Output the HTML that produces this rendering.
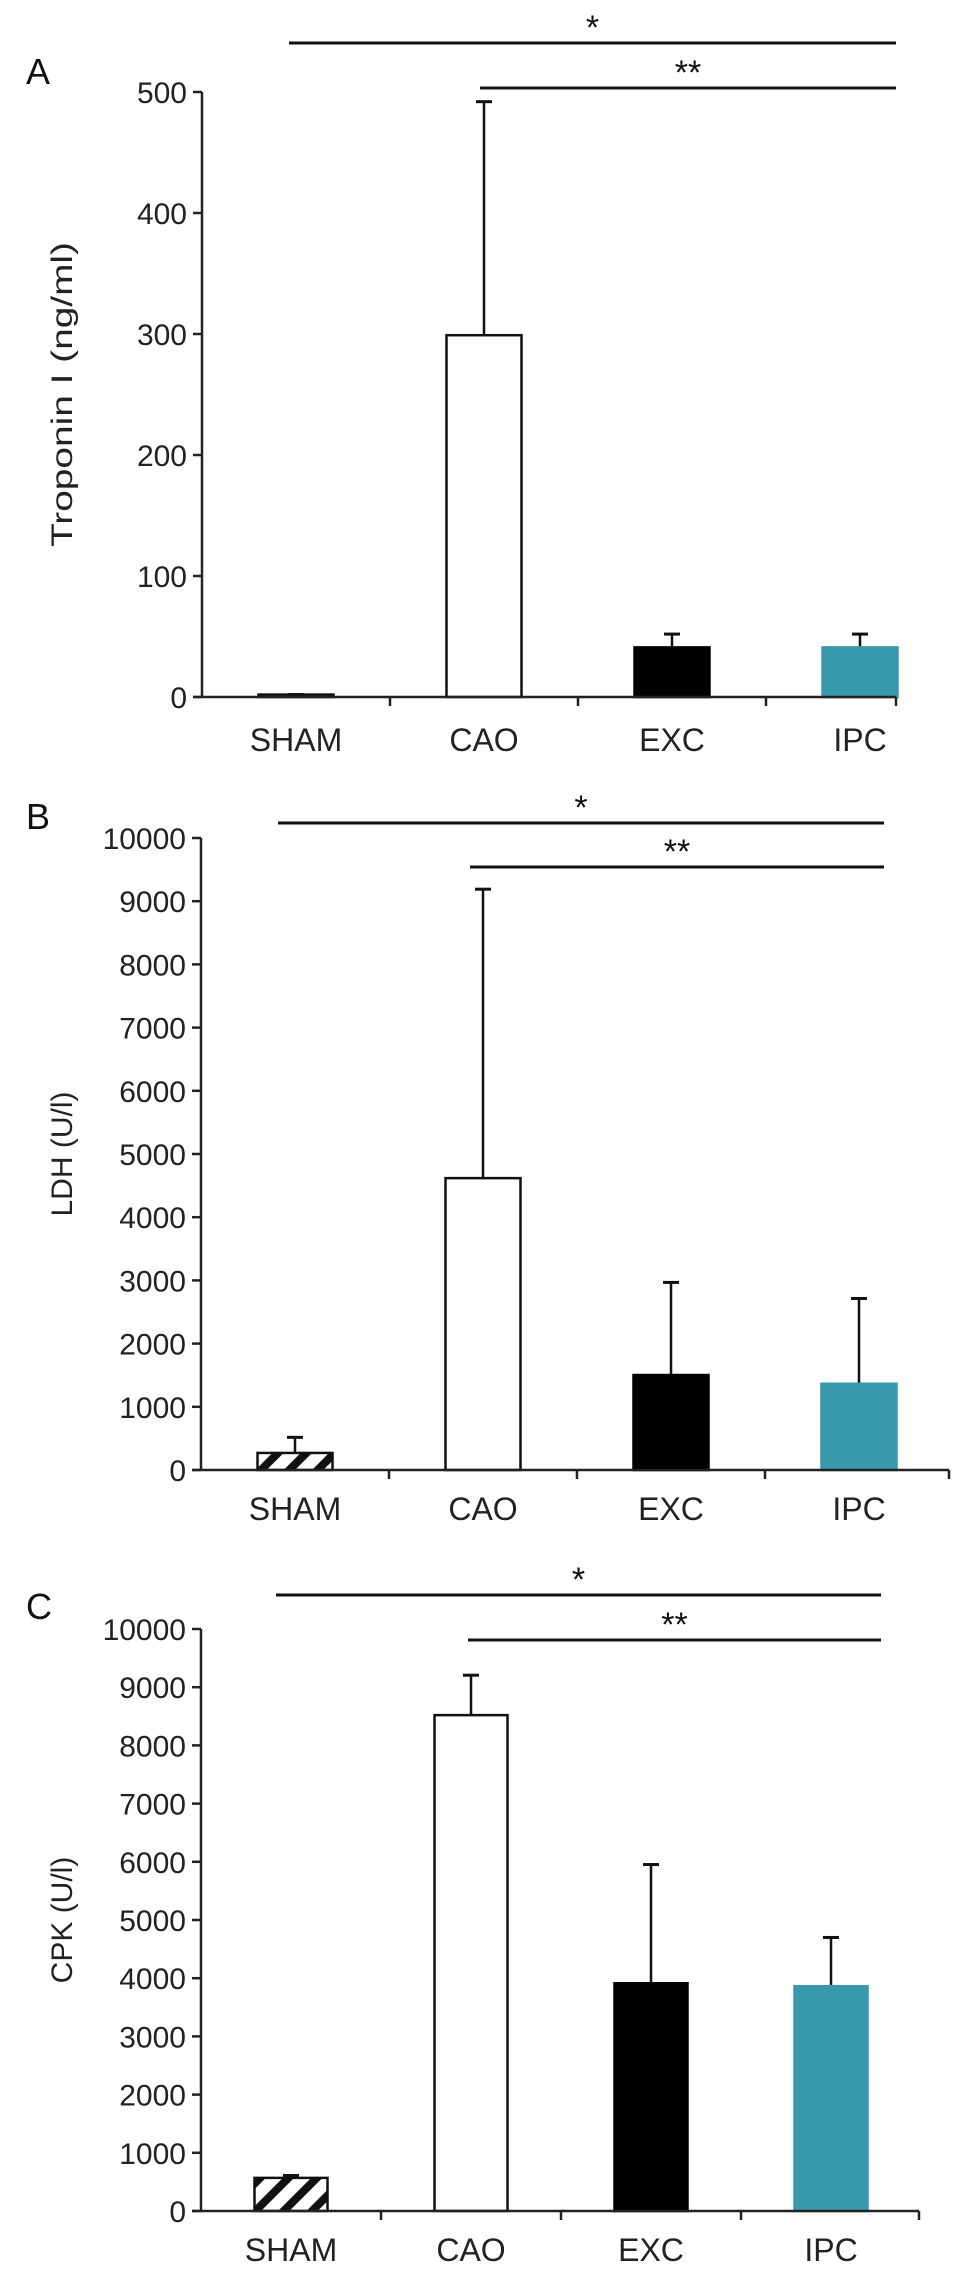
<!DOCTYPE html>
<html><head><meta charset="utf-8">
<style>
html,body{margin:0;padding:0;background:#fff;}
svg{display:block;font-family:"Liberation Sans",Arial,sans-serif;}
</style></head>
<body>
<svg id="fig" width="969" height="2271" viewBox="0 0 969 2271" xmlns="http://www.w3.org/2000/svg">
<defs>
<pattern id="hatch" patternUnits="userSpaceOnUse" width="20" height="20" patternTransform="rotate(45)">
<rect width="20" height="20" fill="#fff"/>
<rect x="0" y="0" width="8" height="20" fill="#111"/>
</pattern>
</defs>
</svg>
<script>
const categories = ["SHAM","CAO","EXC","IPC"];
const troponinValues = [2, 299, 41, 41];
const troponinErrors = [2, 492, 52, 52];
const troponinTicks = [0,100,200,300,400,500];
const ldhValues = [270, 4618, 1503, 1365];
const ldhErrors = [517, 9190, 2968, 2714];
const ldhTicks = [0,1000,2000,3000,4000,5000,6000,7000,8000,9000,10000];
const cpkValues = [569, 8520, 3913, 3863];
const cpkErrors = [610, 9206, 5953, 4700];
const cpkTicks = [0,1000,2000,3000,4000,5000,6000,7000,8000,9000,10000];

const NS = "http://www.w3.org/2000/svg";
const svg = document.getElementById('fig');
const fills = ["url(#hatch)","#fff","#000","#3a98ac"];
const strokes = ["#111","#111","#000","#3a98ac"];

function mk(tag, attrs, parent){
  const e = document.createElementNS(NS, tag);
  for (const k in attrs) e.setAttribute(k, attrs[k]);
  (parent||svg).appendChild(e);
  return e;
}

function panel(p){
  const g = mk('g', {});
  
  
  const yScale = v => p.y0 - v / p.max * (p.y0 - p.yTop);
  const band = p.band;
  const xCenter = i => p.x0 + band * (i + 0.5);

  const letter = mk('text', {x:26, y:p.letterY, 'font-size':36, fill:'#111'}, g);
  letter.textContent = p.letter;
  
  

  const tAttrs = {x:0, y:0, 'font-size':30, fill:'#222', 'text-anchor':'middle',
    transform:'translate(' + 72 + ',' + ((p.y0 + p.yTop)/2) + ') rotate(-90)'};
  if (p.titleLen) { tAttrs.textLength = p.titleLen; tAttrs.lengthAdjust = 'spacingAndGlyphs'; }
  const title = mk('text', tAttrs, g);
  title.textContent = p.title;
  
  

  categories.forEach((c, i) => {
    const bw = p.barW;
    const x = xCenter(i) - bw/2;
    const top = yScale(p.values[i]);
    const errTop = yScale(p.errors[i]);
    const err = mk('line', {x1:xCenter(i), x2:xCenter(i), y1:top, y2:errTop, stroke:'#111', 'stroke-width':2.5}, g);
    
    
    const cap = mk('line', {x1:xCenter(i)-8, x2:xCenter(i)+8, y1:errTop, y2:errTop, stroke:'#111', 'stroke-width':3}, g);
    
    
    const r = mk('rect', {x:x, y:top, width:bw, height:Math.max(p.y0 - top, 1), fill:fills[i], stroke:strokes[i], 'stroke-width':2.5}, g);
    
    
    const lb = mk('text', {x:xCenter(i), y:p.labelY, 'font-size':32, fill:'#222', 'text-anchor':'middle'}, g);
    lb.textContent = c;
    
    
  });

  const ya = mk('line', {x1:p.x0, x2:p.x0, y1:p.yTop, y2:p.y0, stroke:'#222', 'stroke-width':2.5}, g);
  
  
  const xa = mk('line', {x1:p.x0-9, x2:p.xEnd, y1:p.y0, y2:p.y0, stroke:'#222', 'stroke-width':2.5}, g);
  
  
  const tickXs = [p.x0 + band, p.x0 + band*2, p.x0 + band*3, p.xEnd];
  tickXs.forEach(tx => {
    const t = mk('line', {x1:tx, x2:tx, y1:p.y0, y2:p.y0+9, stroke:'#222', 'stroke-width':2.5}, g);
    
    
  });
  p.ticks.forEach(v => {
    const y = yScale(v);
    const t = mk('line', {x1:p.x0-9, x2:p.x0, y1:y, y2:y, stroke:'#222', 'stroke-width':2.5}, g);
    
    
    const tl = mk('text', {x:p.x0-15, y:y+11, 'font-size':30, fill:'#222', 'text-anchor':'end'}, g);
    tl.textContent = v;
    
    
  });

  const s1 = mk('line', {x1:p.sig1x, x2:p.sigEnd, y1:p.sig1y, y2:p.sig1y, stroke:'#111', 'stroke-width':3}, g);
  
  
  const st1 = mk('text', {x:(p.sig1x+p.sigEnd)/2, y:p.sig1y-4, 'font-size':34, fill:'#111', 'text-anchor':'middle'}, g);
  st1.textContent = '*';
  
  
  const s2 = mk('line', {x1:p.sig2x, x2:p.sigEnd, y1:p.sig2y, y2:p.sig2y, stroke:'#111', 'stroke-width':3}, g);
  
  
  const st2 = mk('text', {x:(p.sig2x+p.sigEnd)/2, y:p.sig2y-4, 'font-size':34, fill:'#111', 'text-anchor':'middle'}, g);
  st2.textContent = '**';
  
  
}

panel({letter:'A', letterY:84, title:'Troponin I  (ng/ml)', titleLen:305, x0:202, xEnd:896, band:188, barW:75, y0:697, yTop:92, max:500,
  values:troponinValues, errors:troponinErrors, ticks:troponinTicks, labelY:751,
  sig1x:289, sig1y:43, sig2x:480, sig2y:88, sigEnd:896});
panel({letter:'B', letterY:829, title:'LDH (U/l)', x0:201, xEnd:949, band:188, barW:75, y0:1470, yTop:838, max:10000,
  values:ldhValues, errors:ldhErrors, ticks:ldhTicks, labelY:1520,
  sig1x:278, sig1y:823, sig2x:470, sig2y:867, sigEnd:884});
panel({letter:'C', letterY:1619, title:'CPK (U/l)', x0:201, xEnd:919, band:180, barW:73, y0:2211, yTop:1629, max:10000,
  values:cpkValues, errors:cpkErrors, ticks:cpkTicks, labelY:2261,
  sig1x:276, sig1y:1595, sig2x:468, sig2y:1640, sigEnd:881});
</script>
</body></html>
